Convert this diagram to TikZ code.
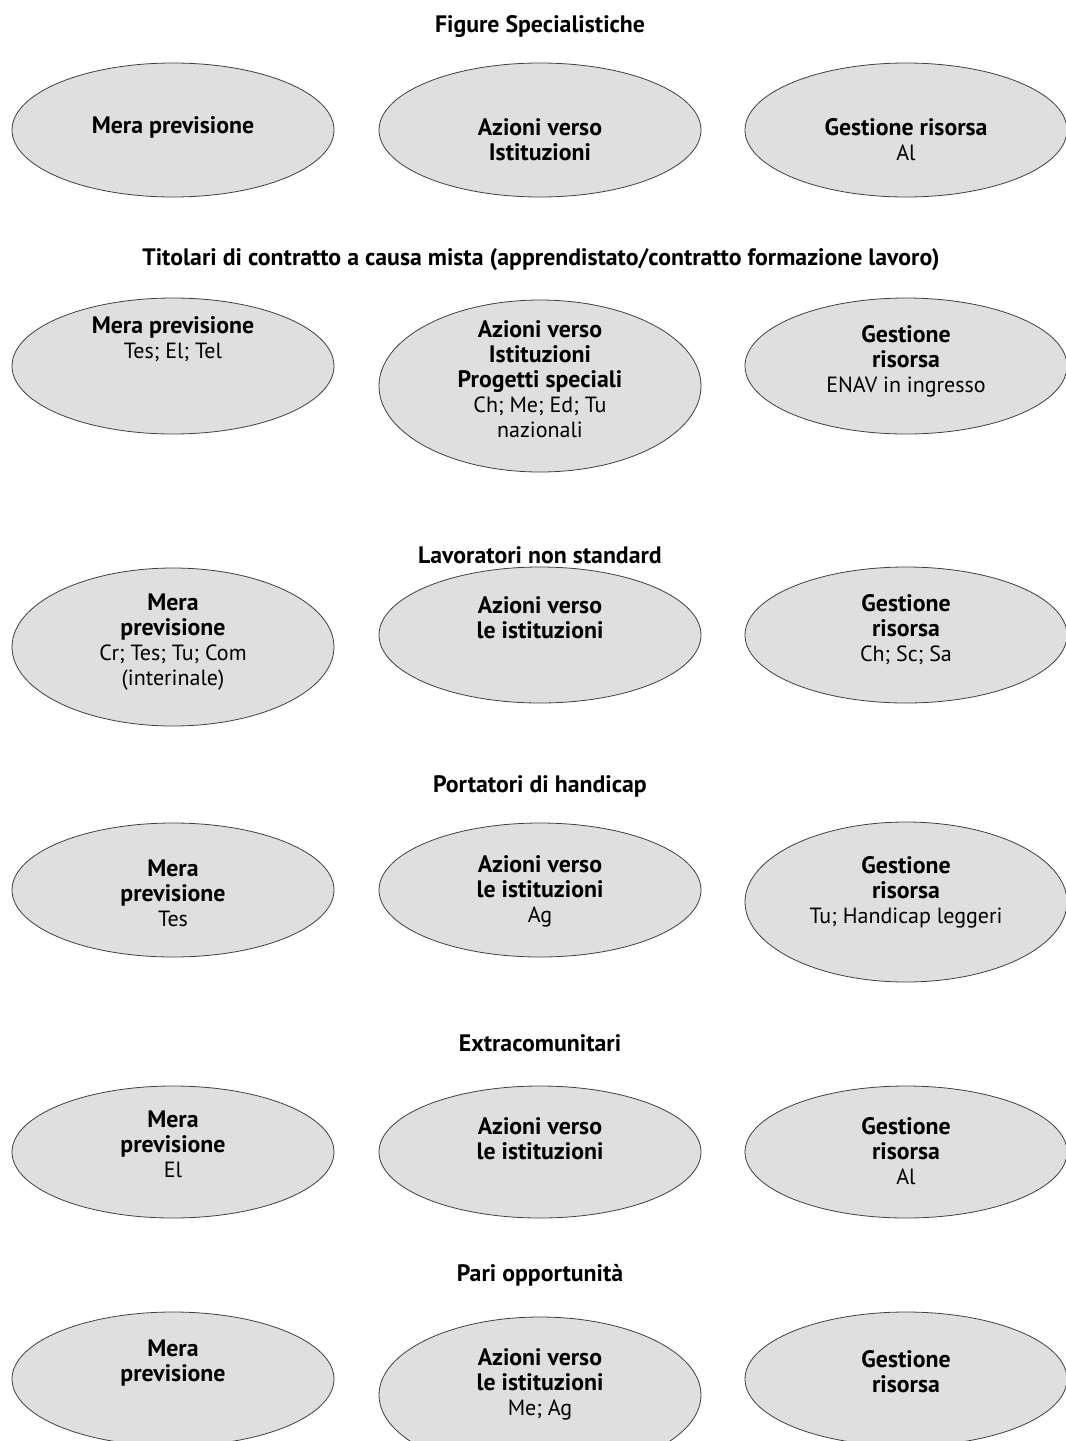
\documentclass[tikz,border=0pt]{standalone}
\usepackage{fontspec}
\setmainfont{PT Sans}
\usepackage{xcolor}
\usepackage{tikz}
\usetikzlibrary{shapes.geometric,positioning}
\definecolor{grigio}{RGB}{223,223,223}
\newcommand{\grass}[1]{{\fontsize{11.9}{12.5}\selectfont\bfseries #1}}
\tikzset{
  ovale/.style={ellipse,draw=black!75,fill=grigio,thin,minimum width=161pt,minimum height=67pt,inner sep=0pt},
  titolo/.style={font=\fontsize{11.9}{12.5}\selectfont\bfseries},
  voce/.style={align=center,font=\fontsize{11}{12.5}\selectfont,inner sep=0pt}
}
\begin{document}
\begin{tikzpicture}[x=0.5pt,y=-0.5pt]
\clip (0,0) rectangle (1066,1441);
% Figure Specialistiche
\node[titolo] (t1) at (540,27) {Figure Specialistiche};
\node[ovale] (a1) at (173,130) {};
\node[ovale] (b1) at (540,130) {};
\node[ovale] (c1) at (906,130) {};
\node[voce] (a1t) at (173,127) {\grass{Mera previsione}};
\node[voce] (b1t) at (540,139.5) {\grass{Azioni verso}\\\grass{Istituzioni}};
\node[voce] (c1t) at (906,139.5) {\grass{Gestione risorsa}\\Al};
% contratto a causa mista
\node[titolo] (t2) at (541,260) {Titolari di contratto a causa mista (apprendistato/contratto formazione lavoro)};
\node[ovale,minimum height=68pt] (a2) at (173,366) {};
\node[ovale,minimum height=86pt] (b2) at (540,386) {};
\node[ovale,minimum height=68pt] (c2) at (906,366) {};
\node[voce] (a2t) at (173,339) {\grass{Mera previsione}\\Tes; El; Tel};
\node[voce] (b2t) at (540,379) {\grass{Azioni verso}\\\grass{Istituzioni}\\\grass{Progetti speciali}\\Ch; Me; Ed; Tu\\nazionali};
\node[voce] (c2t) at (906,361) {\grass{Gestione}\\\grass{risorsa}\\ENAV in ingresso};
% Lavoratori non standard
\node[titolo] (t3) at (540,555) {Lavoratori non standard};
\node[ovale,minimum height=79pt] (a3) at (173,647) {};
\node[ovale,minimum height=68pt] (b3) at (540,635) {};
\node[ovale,minimum height=68pt] (c3) at (906,635) {};
\node[voce] (a3t) at (173,642.5) {\grass{Mera}\\\grass{previsione}\\Cr; Tes; Tu; Com\\(interinale)};
\node[voce] (b3t) at (540,617.5) {\grass{Azioni verso}\\\grass{le istituzioni}};
\node[voce] (c3t) at (906,630) {\grass{Gestione}\\\grass{risorsa}\\Ch; Sc; Sa};
% Portatori di handicap
\node[titolo] (t4) at (540,786) {Portatori di handicap};
\node[ovale] (a4) at (173,890) {};
\node[ovale] (b4) at (540,890) {};
\node[ovale,minimum height=80pt] (c4) at (906,902) {};
\node[voce] (a4t) at (173,893) {\grass{Mera}\\\grass{previsione}\\Tes};
\node[voce] (b4t) at (540,891) {\grass{Azioni verso}\\\grass{le istituzioni}\\Ag};
\node[voce] (c4t) at (906,892.5) {\grass{Gestione}\\\grass{risorsa}\\Tu; Handicap leggeri};
% Extracomunitari
\node[titolo] (t5) at (540,1043) {Extracomunitari};
\node[ovale,minimum height=66pt] (a5) at (173,1152) {};
\node[ovale,minimum height=66pt] (b5) at (540,1152) {};
\node[ovale,minimum height=66pt] (c5) at (906,1152) {};
\node[voce] (a5t) at (173,1144.5) {\grass{Mera}\\\grass{previsione}\\El};
\node[voce] (b5t) at (540,1139) {\grass{Azioni verso}\\\grass{le istituzioni}};
\node[voce] (c5t) at (906,1151) {\grass{Gestione}\\\grass{risorsa}\\Al};
% Pari opportunita
\node[titolo] (t6) at (540,1275) {Pari opportunità};
\node[ovale] (a6) at (173,1379) {};
\node[ovale,minimum height=78pt] (b6) at (540,1395) {};
\node[ovale] (c6) at (906,1379) {};
\node[voce] (a6t) at (173,1363.5) {\grass{Mera}\\\grass{previsione}};
\node[voce] (b6t) at (540,1384) {\grass{Azioni verso}\\\grass{le istituzioni}\\Me; Ag};
\node[voce] (c6t) at (906,1371.5) {\grass{Gestione}\\\grass{risorsa}};
\end{tikzpicture}
\end{document}
